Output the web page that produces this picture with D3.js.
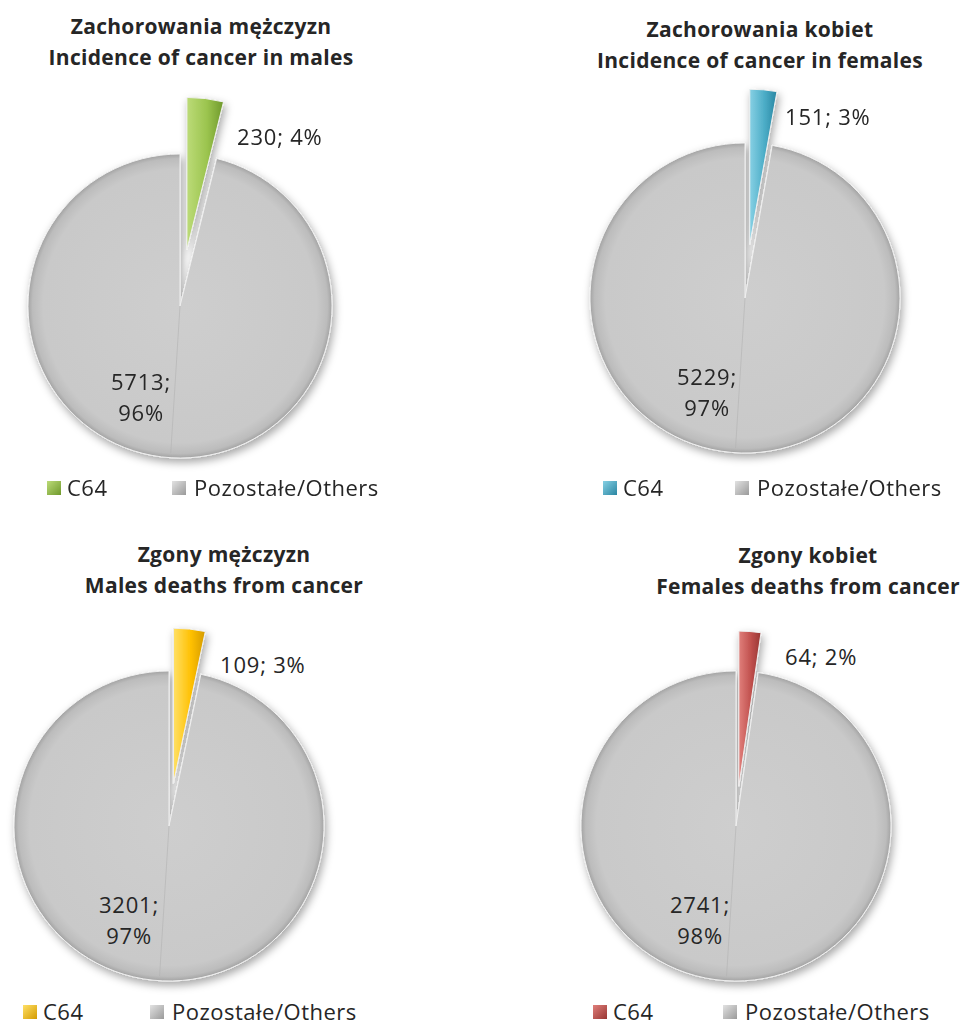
<!DOCTYPE html>
<html>
<head>
<meta charset="utf-8">
<script src="https://cdnjs.cloudflare.com/ajax/libs/d3/7.8.5/d3.min.js"></script>
<style>
  body { margin: 0; background: #fff; }
  svg { display: block; }
  text { font-family: "Open Sans", "Noto Sans", sans-serif; fill: #262626; }
</style>
</head>
<body>
<div id="chart"></div>
<script>
// chart values
var titlesPL = ["Zachorowania mężczyzn", "Zachorowania kobiet", "Zgony mężczyzn", "Zgony kobiet"];
var titlesEN = ["Incidence of cancer in males", "Incidence of cancer in females",
  "Males deaths from cancer", "Females deaths from cancer"];
var categories = ["C64", "Pozostałe/Others"];
var c64Values = [230, 151, 109, 64];
var otherValues = [5713, 5229, 3201, 2741];

// colours of the C64 slice in each panel: [light, base, dark]
var c64Colors = [
  ["#bcdb78", "#9bc44e", "#6f992c"],
  ["#86d0e4", "#4bacc6", "#2a86a2"],
  ["#ffe066", "#ffc000", "#d49b00"],
  ["#e07f7b", "#c0504d", "#983633"]
];
var grayColors = ["#cecece", "#c9c9c9", "#a3a3a3"];

var W = 966, H = 1026;

// placement of each of the four pies and their labels
var layout = [
  { cx: 180, cy: 306, r: 152, explode: 57, titleX: 201, titleY: 34, smallDX: 57, smallDY: -161, bigDX: -39, bigDY: 84, legendX: 47, legendY: 496, legendGap: 125 },
  { cx: 745, cy: 298, r: 155, explode: 54, titleX: 760, titleY: 37, smallDX: 40, smallDY: -173, bigDX: -38, bigDY: 87, legendX: 603, legendY: 496, legendGap: 132 },
  { cx: 169, cy: 826, r: 155, explode: 43, titleX: 224, titleY: 562, smallDX: 51, smallDY: -153, bigDX: -40, bigDY: 87, legendX: 23, legendY: 1020, legendGap: 127 },
  { cx: 736, cy: 826, r: 155, explode: 40, titleX: 808, titleY: 563, smallDX: 49, smallDY: -161, bigDX: -36, bigDY: 87, legendX: 593, legendY: 1020, legendGap: 130 }
];

var svg = d3.select("#chart").append("svg")
  .attr("width", W)
  .attr("height", H);

var defs = svg.append("defs");

var shadow = defs.append("filter")
  .attr("id", "shadow")
  .attr("x", "-20%").attr("y", "-20%")
  .attr("width", "140%").attr("height", "140%");
shadow.append("feDropShadow")
  .attr("dx", 2).attr("dy", 4)
  .attr("stdDeviation", 4)
  .attr("flood-color", "#000")
  .attr("flood-opacity", 0.35);

var pie = d3.pie().sort(null).value(d => d.value);

function drawPanel(i) {
  var L = layout[i];
  var data = [
    { cat: categories[0], value: c64Values[i] },
    { cat: categories[1], value: otherValues[i] }
  ];
  var total = d3.sum(data, d => d.value);
  var arcs = pie(data);
  var arc = d3.arc().innerRadius(0).outerRadius(L.r);

  // gradients (gray one is in the pie group's own coordinates)
  var gGray = defs.append("radialGradient")
    .attr("id", "gray" + i)
    .attr("gradientUnits", "userSpaceOnUse")
    .attr("cx", 0).attr("cy", 0).attr("r", L.r);
  gGray.append("stop").attr("offset", "0%").attr("stop-color", grayColors[0]);
  gGray.append("stop").attr("offset", "90%").attr("stop-color", grayColors[1]);
  gGray.append("stop").attr("offset", "97%").attr("stop-color", "#bcbcbc");
  gGray.append("stop").attr("offset", "100%").attr("stop-color", grayColors[2]);

  var gCol = defs.append("linearGradient")
    .attr("id", "c64_" + i)
    .attr("x1", "0").attr("y1", "0").attr("x2", "1").attr("y2", "0");
  gCol.append("stop").attr("offset", "0%").attr("stop-color", c64Colors[i][0]);
  gCol.append("stop").attr("offset", "55%").attr("stop-color", c64Colors[i][1]);
  gCol.append("stop").attr("offset", "100%").attr("stop-color", c64Colors[i][2]);

  var gLeg = defs.append("linearGradient")
    .attr("id", "leg_" + i)
    .attr("x1", "0").attr("y1", "0").attr("x2", "1").attr("y2", "1");
  gLeg.append("stop").attr("offset", "0%").attr("stop-color", c64Colors[i][0]);
  gLeg.append("stop").attr("offset", "100%").attr("stop-color", c64Colors[i][2]);

  var gLegGray = defs.append("linearGradient")
    .attr("id", "legGray" + i)
    .attr("x1", "0").attr("y1", "0").attr("x2", "1").attr("y2", "1");
  gLegGray.append("stop").attr("offset", "0%").attr("stop-color", "#e2e2e2");
  gLegGray.append("stop").attr("offset", "100%").attr("stop-color", "#9a9a9a");

  var g = svg.append("g").attr("class", "panel");

  // titles
  g.append("text")
    .attr("x", L.titleX).attr("y", L.titleY)
    .attr("text-anchor", "middle")
    .style("font-weight", "bold").style("font-size", "21px")
    .style("letter-spacing", "0.3px")
    .text(titlesPL[i]);
  g.append("text")
    .attr("x", L.titleX).attr("y", L.titleY + 31)
    .attr("text-anchor", "middle")
    .style("font-weight", "bold").style("font-size", "21px")
    .style("letter-spacing", "0.3px")
    .text(titlesEN[i]);

  // slices
  var pieG = g.append("g")
    .attr("transform", `translate(${L.cx},${L.cy})`)
    .attr("filter", "url(#shadow)");

  pieG.selectAll(".slice")
    .data(arcs)
    .enter()
    .append("path")
    .attr("class", "slice")
    .attr("transform", d => {
      if (d.index != 0) return null;
      var mid = (d.startAngle + d.endAngle) / 2;
      return `translate(${Math.sin(mid) * L.explode},${-Math.cos(mid) * L.explode})`;
    })
    .attr("d", arc)
    .attr("fill", d => d.index == 0 ? `url(#c64_${i})` : `url(#gray${i})`)
    .attr("stroke", "#efefef")
    .attr("stroke-width", 1);

  // faint bevel seam running down from the centre of the big slice
  var seamA = Math.PI * 1.02;
  pieG.append("line")
    .attr("x1", 0).attr("y1", 0)
    .attr("x2", Math.sin(seamA) * L.r * 0.97)
    .attr("y2", -Math.cos(seamA) * L.r * 0.97)
    .attr("stroke", "#b3b3b3")
    .attr("stroke-opacity", 0.6)
    .attr("stroke-width", 1);

  // data labels
  var pct = d => Math.round(d.value / total * 100) + "%";
  var small = arcs[0], big = arcs[1];
  g.append("text")
    .attr("x", L.cx + L.smallDX)
    .attr("y", L.cy + L.smallDY)
    .style("font-size", "22px")
    .style("letter-spacing", "0.8px")
    .text(`${small.data.value}; ${pct(small.data)}`);

  var bigLbl = g.append("text")
    .attr("text-anchor", "middle")
    .style("font-size", "22px")
    .style("letter-spacing", "0.8px");
  bigLbl.append("tspan")
    .attr("x", L.cx + L.bigDX).attr("y", L.cy + L.bigDY)
    .text(`${big.data.value};`);
  bigLbl.append("tspan")
    .attr("x", L.cx + L.bigDX).attr("y", L.cy + L.bigDY + 31)
    .text(pct(big.data));

  // legend
  var leg = g.selectAll(".legend")
    .data(categories)
    .enter()
    .append("g")
    .attr("class", "legend")
    .attr("transform", (d, k) => `translate(${L.legendX + k * L.legendGap},${L.legendY})`);
  leg.append("rect")
    .attr("x", 0).attr("y", -15)
    .attr("width", 14).attr("height", 14)
    .attr("fill", (d, k) => k == 0 ? `url(#leg_${i})` : `url(#legGray${i})`);
  leg.append("text")
    .attr("x", (d, k) => k == 0 ? 20 : 22)
    .attr("y", 0)
    .style("font-size", "22px")
    .style("letter-spacing", "0.5px")
    .text(d => d);
}

for (var i = 0; i < 4; i++) drawPanel(i);
</script>
</body>
</html>
